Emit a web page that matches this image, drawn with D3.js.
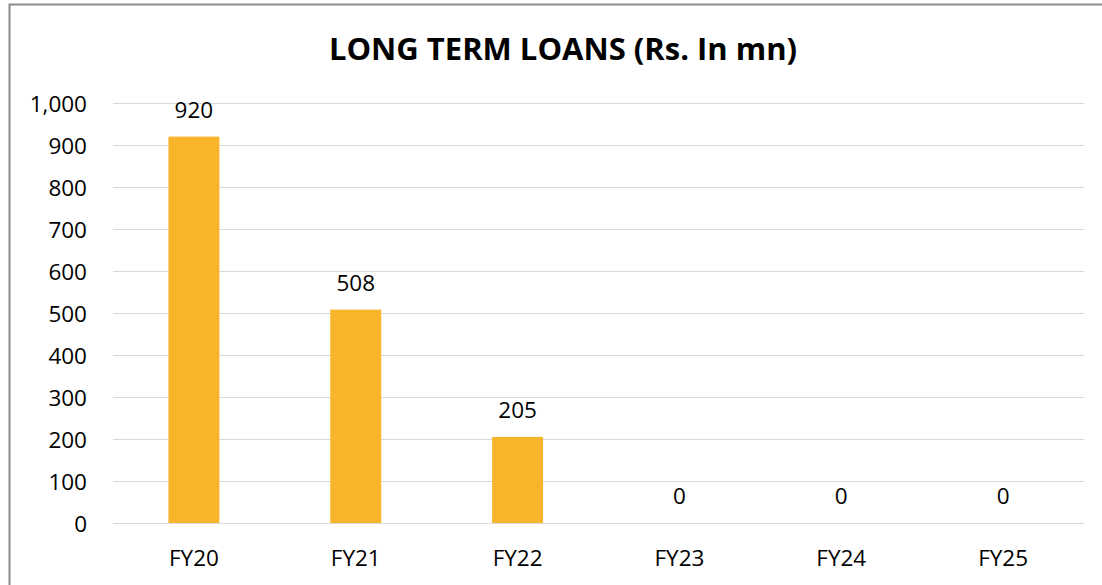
<!DOCTYPE html>
<html>
<head>
<meta charset="utf-8">
<script src="https://cdn.jsdelivr.net/npm/d3@7"></script>
<style>
  html, body { margin: 0; padding: 0; background: #fff; }
  svg { display: block; }
  text { font-family: "Open Sans", Lato, sans-serif; fill: #000; }
</style>
</head>
<body>
<svg id="chart" width="1102" height="585"></svg>
<script>
// Long term loans by fiscal year (Rs. in mn)
const years = ["FY20", "FY21", "FY22", "FY23", "FY24", "FY25"];
const loans = [920, 508, 205, 0, 0, 0];
const yTicks = [0, 100, 200, 300, 400, 500, 600, 700, 800, 900, 1000];
const chartTitle = "LONG TERM LOANS (Rs. In mn)";

const svg = d3.select("#chart");
const W = 1102, H = 585;
const plot = { left: 113, right: 1084, top: 103, bottom: 523 };
const FONT = "'Open Sans', Lato, sans-serif";
const LABEL_SIZE = 22.5;

// outer chart frame
svg.append("rect")
  .attr("x", 9.5).attr("y", 4.5)
  .attr("width", W + 20).attr("height", H + 20)
  .attr("fill", "none")
  .attr("stroke", "#8c8c8c")
  .attr("stroke-width", 2);

const x = d3.scaleBand()
  .domain(years)
  .range([plot.left, plot.right])
  .paddingInner(0.685)
  .paddingOuter(0.3425);

const y = d3.scaleLinear()
  .domain([0, 1000])
  .range([plot.bottom, plot.top]);

// horizontal gridlines
svg.append("g")
  .selectAll("line")
  .data(yTicks)
  .join("line")
  .attr("x1", plot.left).attr("x2", plot.right)
  .attr("y1", d => Math.round(y(d)) + 0.5)
  .attr("y2", d => Math.round(y(d)) + 0.5)
  .attr("stroke", "#d9d9d9")
  .attr("stroke-width", 1);

// y axis labels
const yAxis = d3.axisLeft(y)
  .tickValues(yTicks)
  .tickFormat(d3.format(","))
  .tickSize(0)
  .tickPadding(0);
const gy = svg.append("g")
  .attr("transform", `translate(${plot.left - 26},1.5)`)
  .call(yAxis);
gy.select(".domain").remove();
gy.selectAll("text")
  .attr("font-size", LABEL_SIZE)
  .attr("font-family", FONT)
  .attr("fill", "#000");

// x axis labels
const xAxis = d3.axisBottom(x).tickSize(0).tickPadding(0);
const gx = svg.append("g")
  .attr("transform", `translate(0,${plot.bottom + 27})`)
  .call(xAxis);
gx.select(".domain").remove();
gx.selectAll("text")
  .attr("font-size", LABEL_SIZE)
  .attr("font-family", FONT)
  .attr("fill", "#000");

// bars
svg.append("g")
  .selectAll("rect")
  .data(years.map((c, i) => ({ c, v: loans[i] })))
  .join("rect")
  .attr("x", d => x(d.c))
  .attr("width", x.bandwidth())
  .attr("y", d => y(d.v))
  .attr("height", d => y(0) - y(d.v))
  .attr("fill", "#F8B42B");

// value labels
svg.append("g")
  .selectAll("text")
  .data(years.map((c, i) => ({ c, v: loans[i] })))
  .join("text")
  .attr("x", d => x(d.c) + x.bandwidth() / 2)
  .attr("y", d => y(d.v) - 19)
  .attr("text-anchor", "middle")
  .attr("font-size", LABEL_SIZE)
  .text(d => d3.format(",")(d.v));

// title
svg.append("text")
  .attr("x", 563)
  .attr("y", 60)
  .attr("text-anchor", "middle")
  .attr("font-size", 31)
  .attr("font-weight", "bold")
  .text(chartTitle);
</script>
</body>
</html>
